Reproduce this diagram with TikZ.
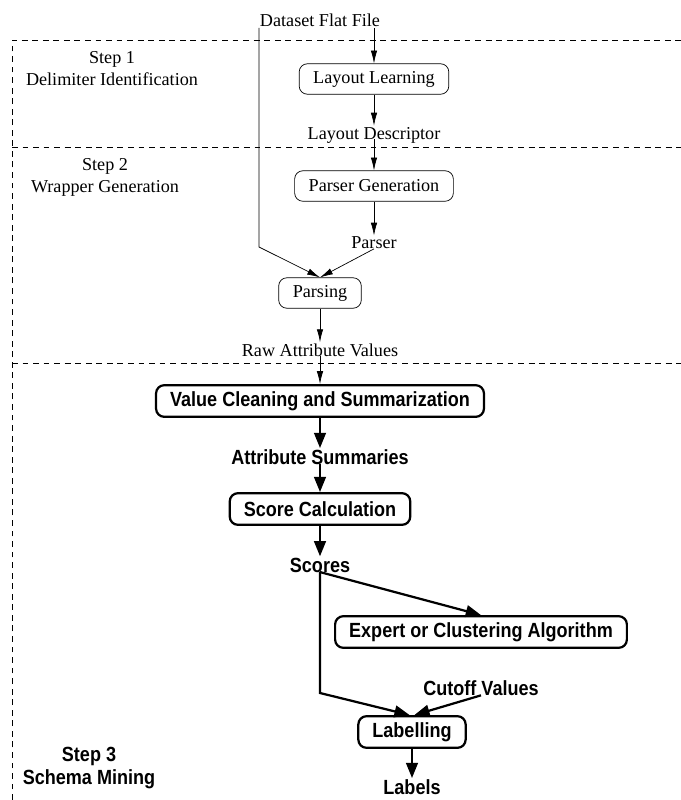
\documentclass[tikz,border=0pt]{standalone}
\usepackage{fontspec}
\setmainfont{Liberation Serif}
\setsansfont{Liberation Sans}[FakeStretch=0.88]
\usetikzlibrary{arrows.meta}

\begin{document}
\begin{tikzpicture}[x=0.03cm,y=-0.03cm,
  sbox/.style={draw,rounded corners=7pt,line width=0.6pt,font=\fontsize{15.5}{18.7}\selectfont,inner xsep=12pt,minimum height=26pt},
  bbox/.style={draw,rounded corners=7pt,line width=1.9pt,font=\sffamily\bfseries\fontsize{17.5}{19.5}\selectfont,inner xsep=12pt,minimum height=27pt},
  slbl/.style={font=\fontsize{15.5}{18.7}\selectfont,inner sep=1pt},
  blbl/.style={font=\sffamily\bfseries\fontsize{17.5}{19.5}\selectfont,inner sep=1pt},
  arr/.style={line width=0.6pt,-{Latex[length=11pt,width=5.5pt]}},
  barr/.style={line width=1.9pt,-{Triangle[length=13pt,width=10pt]}},
  sep/.style={line width=0.6pt,dash pattern=on 5pt off 4pt}]
\useasboundingbox (0,0) rectangle (681,800);
% step frames
\draw[sep] (12,800) -- (12,40) -- (681,40);
\draw[sep] (12,147) -- (681,147);
\draw[sep] (12,363) -- (681,363);
\node[slbl,align=center] (s1) at (112,69) {Step 1\\Delimiter Identification};
\node[slbl,align=center] (s2) at (105,177) {Step 2\\Wrapper Generation};
\node[blbl,align=center] (s3) at (89,768) {Step 3\\Schema Mining};
% steps 1 and 2
\node[slbl] (dff) at (320,20) {Dataset Flat File};
\node[sbox] (ll) at (374,79) {Layout Learning};
\node[slbl] (ld) at (374,135) {Layout Descriptor};
\node[sbox] (pg) at (374,186) {Parser Generation};
\node[slbl] (psr) at (374,243) {Parser};
\node[sbox] (prs) at (320,293) {Parsing};
\node[slbl] (rav) at (320,350) {Raw Attribute Values};
\coordinate (bnd) at (259,247);
\draw[arr] (dff.south -| ll.north) -- (ll);
\draw[arr] (ll) -- (ld);
\draw[arr] (ld.base) -- (pg);
\draw[arr] (pg) -- (psr);
\draw[arr] (dff.south -| bnd) -- (bnd) -- (prs.north);
\draw[arr] (psr.base) -- (prs.north);
\draw[arr] (prs) -- (rav);
% step 3
\node[bbox] (vcs) at (320,401) {Value Cleaning and Summarization};
\node[blbl] (as) at (320,457) {Attribute Summaries};
\node[bbox] (sc) at (320,509) {Score Calculation};
\node[blbl] (sco) at (320,565) {Scores};
\node[bbox] (eca) at (481,632) {Expert or Clustering Algorithm};
\node[blbl] (cv) at (481,688) {Cutoff Values};
\node[bbox] (lab) at (412,732) {Labelling};
\node[blbl] (lbs) at (412,787) {Labels};
\coordinate (bnd2) at (320,693);
\draw[arr] (rav.base) -- (vcs);
\draw[barr] (vcs) -- (as);
\draw[barr] (as.base) -- (sc);
\draw[barr] (sc) -- (sco);
\draw[barr] (sco.base) -- (eca.north);
\draw[barr] (sco.base) -- (bnd2) -- ([xshift=-2pt]lab.north);
\draw[barr] (cv.base) -- ([xshift=2pt]lab.north);
\draw[barr] (lab) -- (lbs);
\end{tikzpicture}
\end{document}
